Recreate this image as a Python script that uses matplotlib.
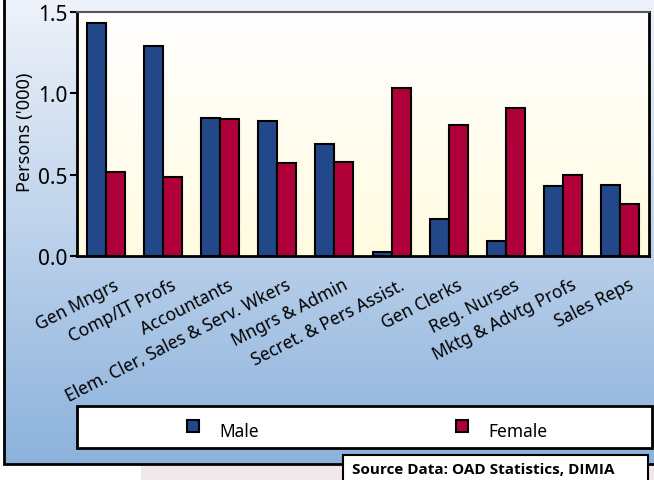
import numpy as np
import matplotlib
matplotlib.use("Agg")
from matplotlib import pyplot as plt
from matplotlib.patches import Rectangle
from matplotlib.colors import LinearSegmentedColormap
from matplotlib.transforms import ScaledTranslation

# occupations and persons ('000)
occupations = ["Gen Mngrs", "Comp/IT Profs", "Accountants",
               "Elem. Cler, Sales & Serv. Wkers", "Mngrs & Admin",
               "Secret. & Pers Assist.", "Gen Clerks", "Reg. Nurses",
               "Mktg & Advtg Profs", "Sales Reps"]
male = [1.43, 1.29, 0.85, 0.83, 0.69, 0.025, 0.225, 0.092, 0.432, 0.438]
female = [0.516, 0.483, 0.84, 0.573, 0.578, 1.034, 0.807, 0.91, 0.496, 0.317]
series_names = ["Male", "Female"]
yticks = [0.0, 0.5, 1.0, 1.5]

male_col = "#22488a"
female_col = "#b0003a"
W, H = 654, 481

plt.rcParams['font.family'] = ['Noto Sans', 'DejaVu Sans']

fig = plt.figure(figsize=(W / 100, H / 100), dpi=100)

# background in pixel coords
bg = fig.add_axes([0, 0, 1, 1], zorder=-10)
bg.set_xlim(0, W)
bg.set_ylim(H, 0)
bg.axis("off")
sky = LinearSegmentedColormap.from_list("sky", ["#eef2fa", "#8cb2dc"])
grad = np.linspace(0, 1, 256).reshape(-1, 1)
bg.imshow(grad, cmap=sky, extent=(4, W, 465, 0), aspect="auto")
bg.add_patch(Rectangle((4, -10), W + 20, 475, fill=False, ec="black", lw=2))
bg.add_patch(Rectangle((141, 467), W, 20, fc="#f0e8e8", ec="none"))

ax = fig.add_axes([77 / W, 1 - 257 / H, 572 / W, 244 / H])
pale = LinearSegmentedColormap.from_list("pale", ["#ffffff", "#fffbe0"])
ax.imshow(grad, cmap=pale, extent=(0, 1, 0, 1), transform=ax.transAxes,
          aspect="auto", zorder=0)

x = np.arange(len(occupations))
w = 1 / 3
b1 = ax.bar(x - w / 2, male, w, color=male_col, edgecolor="black", lw=1.5, zorder=2)
b2 = ax.bar(x + w / 2, female, w, color=female_col, edgecolor="black", lw=1.5, zorder=2)

ax.set_xlim(-0.5, len(occupations) - 0.5)
ax.set_ylim(0, 1.5)
ax.set_yticks(yticks)
ax.set_yticklabels([f"{v:.1f}" for v in yticks], fontsize=15)
ax.tick_params(axis="y", length=5, width=1.5, pad=2)
ax.set_xticks(x)
ax.set_xticklabels(occupations, rotation=27, ha="right", va="top",
                   rotation_mode="anchor", fontsize=12.5)
ax.tick_params(axis="x", length=0, pad=14)
shift = ScaledTranslation(8 / 100, 0, fig.dpi_scale_trans)
for lab in ax.get_xticklabels():
    lab.set_transform(lab.get_transform() + shift)
ax.set_ylabel("Persons ('000)", fontsize=13, labelpad=0)
ax.yaxis.set_label_coords(-0.076, 0.51)
for s in ["left", "bottom", "right"]:
    ax.spines[s].set_linewidth(2)
ax.spines["top"].set_color("#555555")
ax.spines["top"].set_linewidth(1.5)

# legend box
bg.add_patch(Rectangle((77, 407), 575, 42, fc="white", ec="black", lw=2))
for bars, name, mx in [(b1, series_names[0], 187), (b2, series_names[1], 456)]:
    bg.add_patch(Rectangle((mx, 421), 12, 12, fc=bars.patches[0].get_facecolor(),
                           ec="black", lw=1.5))
    bg.text(mx + 32, 437, name, fontsize=12.5, va="baseline", ha="left")

# source box
bg.add_patch(Rectangle((343, 456), 305, 30, fc="white", ec="black", lw=1.5))
bg.text(352, 474, "Source Data: OAD Statistics, DIMIA", fontsize=11,
        family=["Open Sans", "Liberation Sans", "DejaVu Sans"],
        fontweight="bold", va="baseline", ha="left")

fig.savefig("out.png", dpi=100)
